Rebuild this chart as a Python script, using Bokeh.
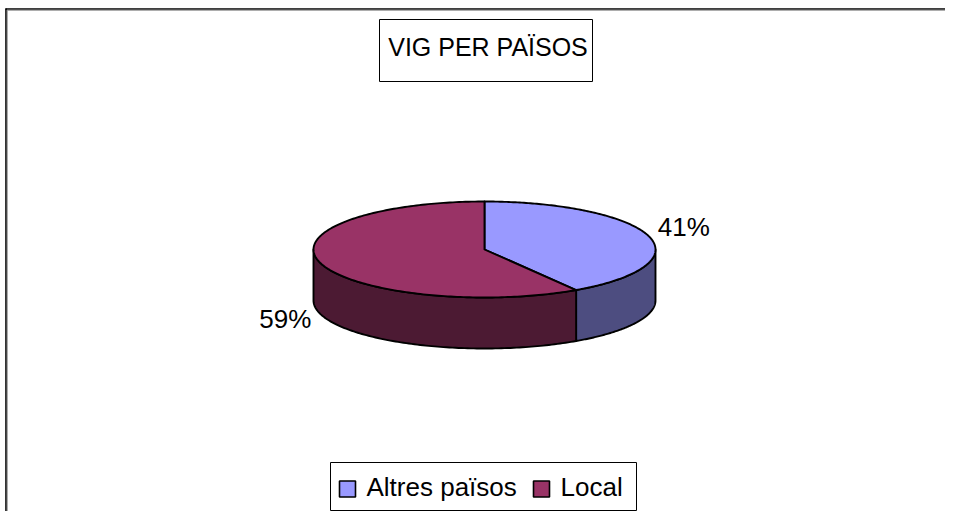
import numpy as np
from bokeh.plotting import figure
from bokeh.models import Range1d
from bokeh.core.properties import value
from bokeh.embed import file_html
from bokeh.resources import INLINE

# ---- data ----
title_text = "VIG PER PAÏSOS"
categories = ["Altres països", "Local"]
shares = [41, 59]
top_colors = ["#9999FF", "#993366"]
side_colors = ["#4D4D80", "#4C1A33"]

# ---- layout ----
W, H = 945, 511
FONT = value("Liberation Sans")

p = figure(width=W, height=H, x_range=Range1d(0, W), y_range=Range1d(H, 0),
           x_axis_type=None, y_axis_type=None, output_backend="svg",
           toolbar_location=None, min_border=0)
p.outline_line_color = None
p.background_fill_color = "white"
p.border_fill_color = "white"
p.xgrid.visible = False
p.ygrid.visible = False

# outer frame (only top & left edges visible in reference)
p.segment(x0=[5, 6.5], y0=[8.5, 9.8], x1=[W, W], y1=[8.5, 9.8],
          line_color=["black", "#999999"], line_width=[1.6, 1])
p.segment(x0=[5.5, 6.8], y0=[8, 9.5], x1=[5.5, 6.8], y1=[H, H],
          line_color=["black", "#999999"], line_width=[1.6, 1])

# title box
p.quad(left=[379], right=[592], top=[19], bottom=[81], fill_color="white",
       line_color="black", line_width=1)
p.text(x=[487.5], y=[46], text=[title_text], text_font=FONT, text_font_size="25px",
       text_align="center", text_baseline="middle", text_color="black")

# ---- 3D pie ----
cx, cy, a, b, depth = 484, 249, 171, 48, 51
fr = np.array(shares, dtype=float) / sum(shares)
ends = np.cumsum(fr) * 2 * np.pi
starts = np.concatenate([[0.0], ends[:-1]])


def ept(t, dy=0.0):
    return cx + a * np.sin(t), cy - b * np.cos(t) + dy


side_xs, side_ys, side_c = [], [], []
for s, e, c in zip(starts, ends, side_colors):
    lo, hi = max(s, np.pi / 2), min(e, 3 * np.pi / 2)
    if hi > lo:
        t = np.linspace(lo, hi, 120)
        xt, yt = ept(t)
        xb, yb = ept(t[::-1], depth)
        side_xs.append(list(np.concatenate([xt, xb])))
        side_ys.append(list(np.concatenate([yt, yb])))
        side_c.append(c)
p.patches(side_xs, side_ys, fill_color=side_c, line_color="black", line_width=1.9,
          line_join="round")

top_xs, top_ys = [], []
for s, e in zip(starts, ends):
    t = np.linspace(s, e, 200)
    xt, yt = ept(t)
    top_xs.append([cx] + list(xt))
    top_ys.append([cy] + list(yt))
p.patches(top_xs, top_ys, fill_color=top_colors, line_color="black", line_width=1.9,
          line_join="round")

# percentage labels
for s, e, sh in zip(starts, ends, shares):
    m = (s + e) / 2
    x, y = ept(m)
    if np.sin(m) >= 0:
        p.text(x=[x + 9], y=[y - 9], text=[f"{sh}%"], text_font=FONT, text_font_size="26px",
               text_align="left", text_baseline="middle", text_color="black")
    else:
        p.text(x=[x - 9], y=[y + depth + 5], text=[f"{sh}%"], text_font=FONT,
               text_font_size="26px", text_align="right", text_baseline="middle",
               text_color="black")

# ---- legend ----
p.quad(left=[330], right=[636], top=[462], bottom=[510], fill_color="white",
       line_color="black", line_width=1)
sq_x = [347, 541]
txt_x = [366, 560]
p.rect(x=sq_x, y=[488.5, 488.5], width=16, height=16, fill_color=top_colors,
       line_color="black", line_width=1.6)
p.text(x=txt_x, y=[486, 486], text=categories, text_font=FONT, text_font_size="26px",
       text_align="left", text_baseline="middle", text_color="black")

open("out.html", "w").write(file_html(p, INLINE))
